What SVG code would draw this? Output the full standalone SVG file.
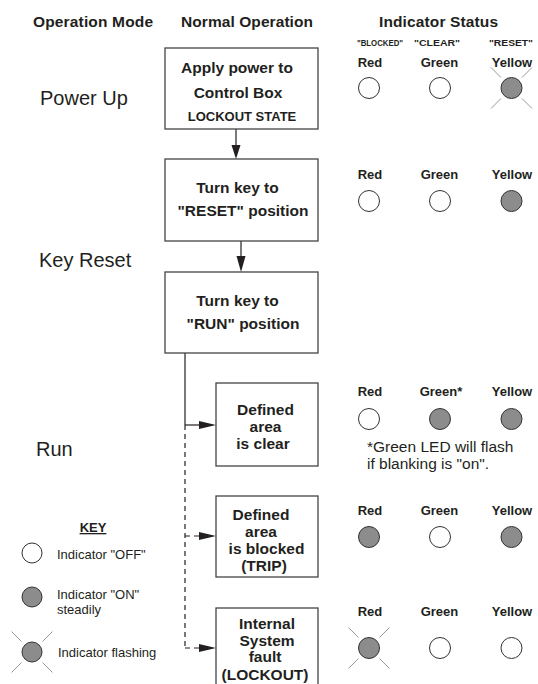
<svg xmlns="http://www.w3.org/2000/svg" width="538" height="684" viewBox="0 0 538 684">
<style>
text{font-family:"Liberation Sans",Arial,sans-serif;fill:#231f20}
.h{font-size:15.5px;font-weight:bold}
.b{font-size:15.5px;font-weight:bold;text-anchor:middle}
.s{font-size:13px;font-weight:bold;text-anchor:middle}
.q{font-size:9.5px;font-weight:bold;text-anchor:middle}
.m{font-size:20px}
.k{font-size:13px}
.n{font-size:15.5px}
.box{fill:#fff;stroke:#444;stroke-width:1.3}
.off{fill:#fff;stroke:#333;stroke-width:1}
.on{fill:#8c8c8c;stroke:#333;stroke-width:1}
.ray{stroke:#999;stroke-width:1}
.ln{stroke:#231f20;stroke-width:1.2;fill:none}
.dash{stroke:#231f20;stroke-width:1.2;fill:none;stroke-dasharray:5 4}
.ah{fill:#231f20}
</style>
<defs>
<g id="rays">
<line class="ray" x1="-10.5" y1="-10.5" x2="-20.5" y2="-20.5"/>
<line class="ray" x1="10.5" y1="-10.5" x2="20.5" y2="-20.5"/>
<line class="ray" x1="-10.5" y1="10.5" x2="-20.5" y2="20.5"/>
<line class="ray" x1="10.5" y1="10.5" x2="20.5" y2="20.5"/>
</g>
</defs>

<g id="headers">
<text class="h" x="33" y="27" textLength="120">Operation Mode</text>
<text class="h" x="181" y="27" textLength="132">Normal Operation</text>
<text class="h" x="379" y="27" textLength="119">Indicator Status</text>
<text class="q" x="380" y="46" textLength="46" lengthAdjust="spacingAndGlyphs">"BLOCKED"</text>
<text class="q" x="437" y="46" textLength="46" lengthAdjust="spacingAndGlyphs">"CLEAR"</text>
<text class="q" x="511" y="46" textLength="44" lengthAdjust="spacingAndGlyphs">"RESET"</text>
</g>

<g id="modes">
<text class="m" x="40" y="105">Power Up</text>
<text class="m" x="39" y="267">Key Reset</text>
<text class="m" x="36" y="456">Run</text>
</g>

<g id="connectors">
<line class="ln" x1="236" y1="129" x2="236" y2="146"/>
<polygon class="ah" points="231.5,145 240.5,145 236,159"/>
<line class="ln" x1="241" y1="241" x2="241" y2="257"/>
<polygon class="ah" points="236.5,256 245.5,256 241,272"/>
<line class="ln" x1="185" y1="353" x2="185" y2="425"/>
<line class="ln" x1="185" y1="425" x2="200" y2="425"/>
<polygon class="ah" points="199,421 199,429 216,425"/>
<line class="dash" x1="185" y1="425" x2="185" y2="648"/>
<line class="dash" x1="185" y1="536" x2="199" y2="536"/>
<polygon class="ah" points="199,532 199,540 216,536"/>
<line class="dash" x1="185" y1="648" x2="199" y2="648"/>
<polygon class="ah" points="199,644 199,652 216,648"/>
</g>

<g id="box1">
<rect class="box" x="165" y="48" width="153" height="81"/>
<text class="b" x="237" y="73">Apply power to</text>
<text class="b" x="238" y="98">Control Box</text>
<text class="s" x="242" y="121">LOCKOUT STATE</text>
</g>
<g id="box2">
<rect class="box" x="165" y="159" width="153" height="82"/>
<text class="b" x="237.5" y="193">Turn key to</text>
<text class="b" x="243" y="216">"RESET" position</text>
</g>
<g id="box3">
<rect class="box" x="165" y="272" width="153" height="81"/>
<text class="b" x="237.5" y="306">Turn key to</text>
<text class="b" x="243" y="329">"RUN" position</text>
</g>
<g id="box4">
<rect class="box" x="216" y="383" width="102" height="83"/>
<text class="b" x="265.5" y="415">Defined</text>
<text class="b" x="265.5" y="432">area</text>
<text class="b" x="263" y="449">is clear</text>
</g>
<g id="box5">
<rect class="box" x="216" y="496" width="102" height="81"/>
<text class="b" x="261" y="520">Defined</text>
<text class="b" x="261" y="537">area</text>
<text class="b" x="266.5" y="554">is blocked</text>
<text class="b" x="264" y="571">(TRIP)</text>
</g>
<g id="box6">
<rect class="box" x="216" y="608" width="102" height="84"/>
<text class="b" x="267" y="629">Internal</text>
<text class="b" x="267" y="646">System</text>
<text class="b" x="265" y="662">fault</text>
<text class="b" x="265" y="680">(LOCKOUT)</text>
</g>

<g id="status1">
<text class="s" x="370" y="67">Red</text>
<text class="s" x="439.5" y="67">Green</text>
<text class="s" x="512" y="67">Yellow</text>
<circle class="off" cx="369" cy="88" r="10.5"/>
<circle class="off" cx="440" cy="88" r="10.5"/>
<use href="#rays" x="511.5" y="88"/>
<circle class="on" cx="511.5" cy="88" r="10.5"/>
</g>
<g id="status2">
<text class="s" x="370" y="179">Red</text>
<text class="s" x="439.5" y="179">Green</text>
<text class="s" x="512" y="179">Yellow</text>
<circle class="off" cx="369" cy="201" r="10.5"/>
<circle class="off" cx="440" cy="201" r="10.5"/>
<circle class="on" cx="511.5" cy="201" r="10.5"/>
</g>
<g id="status3">
<text class="s" x="370" y="396">Red</text>
<text class="s" x="441" y="396">Green*</text>
<text class="s" x="512" y="396">Yellow</text>
<circle class="off" cx="369" cy="419" r="10.5"/>
<circle class="on" cx="440" cy="419" r="10.5"/>
<circle class="on" cx="511.5" cy="419" r="10.5"/>
<text class="n" x="367" y="452">*Green LED will flash</text>
<text class="n" x="367" y="469">if blanking is "on".</text>
</g>
<g id="status4">
<text class="s" x="370" y="515">Red</text>
<text class="s" x="439.5" y="515">Green</text>
<text class="s" x="512" y="515">Yellow</text>
<circle class="on" cx="369" cy="537" r="10.5"/>
<circle class="off" cx="440" cy="537" r="10.5"/>
<circle class="on" cx="511.5" cy="537" r="10.5"/>
</g>
<g id="status5">
<text class="s" x="370" y="616">Red</text>
<text class="s" x="439.5" y="616">Green</text>
<text class="s" x="512" y="616">Yellow</text>
<use href="#rays" x="369" y="648"/>
<circle class="on" cx="369" cy="648" r="10.5"/>
<circle class="off" cx="440" cy="648" r="10.5"/>
<circle class="off" cx="511.5" cy="648" r="10.5"/>
</g>

<g id="key">
<text class="s" x="93" y="532" text-decoration="underline">KEY</text>
<circle class="off" cx="32" cy="553" r="10"/>
<text class="k" x="57" y="559">Indicator "OFF"</text>
<circle class="on" cx="32" cy="597" r="10"/>
<text class="k" x="57" y="599">Indicator "ON"</text>
<text class="k" x="57" y="614">steadily</text>
<use href="#rays" x="32" y="652"/>
<circle class="on" cx="32" cy="652" r="10"/>
<text class="k" x="58" y="657">Indicator  flashing</text>
</g>
</svg>
